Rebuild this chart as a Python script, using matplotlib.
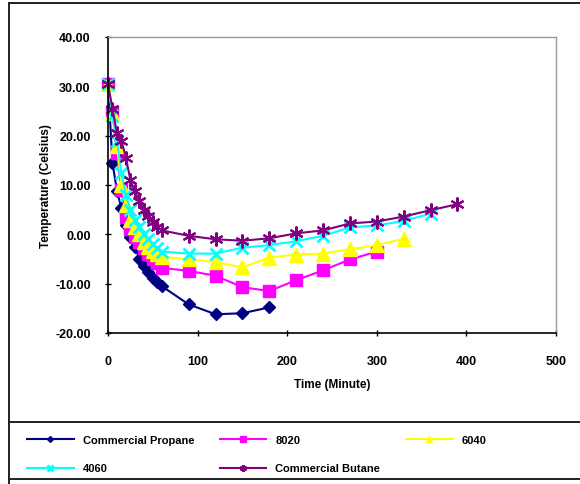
import numpy as np
import matplotlib.pyplot as plt
from matplotlib.lines import Line2D
from matplotlib.ticker import FormatStrFormatter

plt.rcParams['font.family'] = ['Liberation Sans Narrow', 'Liberation Sans', 'DejaVu Sans']
plt.rcParams['font.weight'] = 'bold'

# time (minutes) and temperature (Celsius)
t_propane = [0, 5, 10, 15, 20, 25, 30, 35, 40, 45, 50, 55, 60, 90, 120, 150, 180]
propane = [30.5, 14.5, 8.8, 5.3, 1.8, -0.5, -2.5, -5.0, -6.5, -7.7, -8.8, -9.7, -10.5,
           -14.2, -16.2, -16.0, -14.8]

t_8020 = [0, 5, 10, 15, 20, 25, 30, 35, 40, 45, 50, 55, 60, 90, 120, 150, 180,
          210, 240, 270, 300]
s8020 = [30.5, 24.7, 16.5, 9.0, 3.5, 1.0, -0.5, -1.5, -2.8, -4.0, -5.0, -5.8, -6.8,
         -7.4, -8.4, -10.7, -11.5, -9.3, -7.3, -5.1, -3.5]

t_6040 = [0, 5, 10, 15, 20, 25, 30, 35, 40, 45, 50, 55, 60, 90, 120, 150, 180,
          210, 240, 270, 300, 330]
s6040 = [30.5, 24.5, 18.0, 10.0, 6.0, 3.0, 1.5, 0.0, -1.5, -2.5, -3.3, -4.0, -4.5,
         -5.1, -5.6, -6.7, -4.7, -4.1, -3.9, -3.0, -2.2, -0.9]

t_4060 = [0, 5, 10, 15, 20, 25, 30, 35, 40, 45, 50, 55, 60, 90, 120, 150, 180,
          210, 240, 270, 300, 330, 360]
s4060 = [30.5, 24.0, 19.0, 12.5, 8.0, 5.0, 3.0, 1.5, 0.0, -1.0, -2.0, -2.8, -3.5,
         -3.9, -3.9, -2.7, -2.2, -1.4, -0.3, 1.4, 1.8, 2.7, 4.2]

t_butane = [0, 5, 10, 15, 20, 25, 30, 35, 40, 45, 50, 55, 60, 90, 120, 150, 180,
            210, 240, 270, 300, 330, 360, 390]
butane = [30.5, 25.4, 20.5, 19.0, 15.5, 11.0, 8.7, 6.8, 5.0, 3.7, 2.5, 1.5, 0.8,
          -0.3, -1.0, -1.3, -0.8, 0.2, 0.8, 2.2, 2.6, 3.6, 4.9, 6.1]

fig = plt.figure(figsize=(5.8, 4.85), dpi=100)
W, H = 580, 485
ax = fig.add_axes([108 / W, 1 - 334 / H, (556 - 108) / W, (334 - 38) / H])

star = (6, 2, 0)
series = [
    ('Commercial Propane', t_propane, propane, '#000080', 'D', 6, 1),
    ('8020', t_8020, s8020, '#FF00FF', 's', 9, 1),
    ('6040', t_6040, s6040, '#FFFF00', '^', 9.5, 1),
    ('4060', t_4060, s4060, '#00FFFF', 'x', 8, 2),
    ('Commercial Butane', t_butane, butane, '#800080', star, 10, 1.5),
]
handles = []
for name, tx, ty, col, mk, ms, mew in series:
    ln, = ax.plot(tx, ty, color=col, lw=1.5, marker=mk, ms=ms, mec=col, mfc=col,
                  mew=mew, label=name, clip_on=False)
    handles.append(ln)

ax.set_xlim(0, 500)
ax.set_ylim(-20, 40)
ax.set_xticks(np.arange(0, 501, 100))
ax.set_yticks(np.arange(-20, 41, 10))
ax.yaxis.set_major_formatter(FormatStrFormatter('%.2f'))
ax.tick_params(direction='inout', length=5, width=1, labelsize=9, pad=10)
ax.tick_params(axis='x', pad=13)
for s in ['top', 'right']:
    ax.spines[s].set_color('#999999')
    ax.spines[s].set_linewidth(1)
for s in ['left', 'bottom']:
    ax.spines[s].set_color('black')
    ax.spines[s].set_linewidth(1.2)
ax.set_xlabel('Time (Minute)', fontsize=8.5, fontweight='bold', labelpad=8)
ax.set_ylabel('Temperature (Celsius)', fontsize=8.5, fontweight='bold', labelpad=2)

# legend, reordered so that rows read across like the reference
order = [0, 3, 1, 4, 2]
leg = fig.legend([handles[i] for i in order], [series[i][0] for i in order],
                 ncol=3, loc='center left', bbox_to_anchor=(17 / W, 1 - 455 / H),
                 frameon=False, fontsize=8, handlelength=4.2, markerscale=0.5,
                 columnspacing=2.3, labelspacing=1.7, handletextpad=0.8)
for txt in leg.get_texts():
    txt.set_fontweight('bold')

# outer chart frame and legend box
kw = dict(color='#202020', lw=1.4, transform=fig.transFigure)
fig.add_artist(Line2D([9 / W, 9 / W], [0, 1 - 4 / H], **kw))
fig.add_artist(Line2D([9 / W, 1], [1 - 4 / H, 1 - 4 / H], **kw))
fig.add_artist(Line2D([9 / W, 1], [1 - 423 / H, 1 - 423 / H], **kw))
fig.add_artist(Line2D([9 / W, 1], [1 - 480 / H, 1 - 480 / H], **kw))

fig.savefig('out.png', dpi=100)
